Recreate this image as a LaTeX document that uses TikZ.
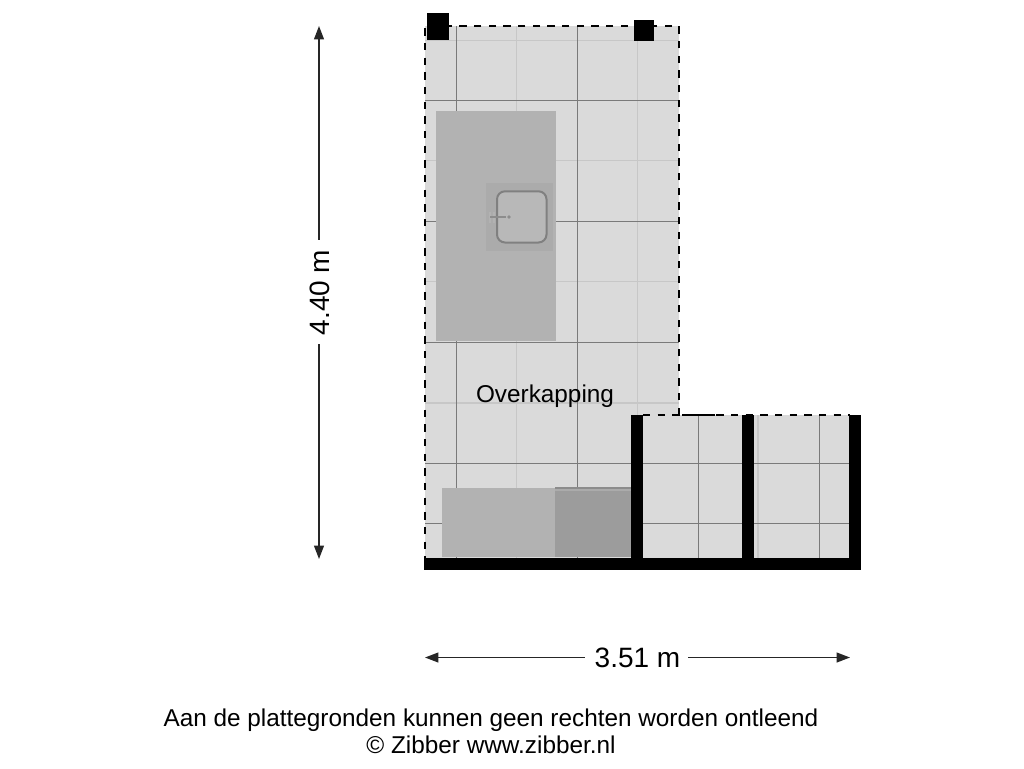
\documentclass[tikz,border=0pt]{standalone}
\usepackage{fontspec}
\setmainfont{Liberation Sans}
\usetikzlibrary{arrows.meta}
\definecolor{floorc}{gray}{0.855}
\definecolor{topc}{gray}{0.70}
\definecolor{panelc}{gray}{0.67}
\definecolor{basinc}{gray}{0.72}
\definecolor{darkblock}{gray}{0.61}
\tikzset{
  x=0.75pt,y=-0.75pt,
  floorfill/.style={fill=floorc,draw=none},
  darkgrid/.style={draw=black!52,line width=0.8pt},
  lightgrid/.style={draw=black!22,line width=0.8pt},
  wall/.style={fill=black,draw=none},
  dashline/.style={draw=black,line width=2.1pt,dash pattern=on 5.6pt off 5.4pt},
  dimline/.style={draw=black!85,line width=1pt},
  dimstart/.style={{Triangle[length=10pt,width=7.4pt]}-},
  dimend/.style={-{Triangle[length=10pt,width=7.4pt]}},
  dimtext/.style={font=\fontsize{21}{25}\selectfont,inner sep=0pt,text=black},
  label/.style={font=\fontsize{18.25}{21}\selectfont,inner sep=0pt,text=black},
}
\begin{document}
\begin{tikzpicture}
\useasboundingbox (0,0) rectangle (1024,768);
% floors
\fill[floorfill] (425,26) rectangle (679,415);
\fill[floorfill] (425,415) rectangle (632,560);
\fill[floorfill] (643,415) rectangle (850,560);
% tile grid, covered area
\foreach \yy in {40.5,160.7,281.7,403}{\draw[lightgrid] (425,\yy) -- (679,\yy);}
\foreach \xx in {516.7,637.3}{\draw[lightgrid] (\xx,26) -- (\xx,415);}
\draw[lightgrid] (516.7,415) -- (516.7,558);
\foreach \yy in {100.7,221.7,342.7}{\draw[darkgrid] (425,\yy) -- (679,\yy);}
\draw[darkgrid] (425,463.3) -- (632,463.3);
\draw[darkgrid] (425,523.7) -- (632,523.7);
\draw[darkgrid] (456.3,26) -- (456.3,558);
\draw[darkgrid] (577.3,26) -- (577.3,558);
% tile grid, side bays
\foreach \xx in {698.3,819.3}{\draw[darkgrid] (\xx,415) -- (\xx,558);}
\draw[lightgrid] (758,415) -- (758,558);
\foreach \yy in {463.3,523.7}{\draw[darkgrid] (643,\yy) -- (850,\yy);}
% kitchen island
\fill[topc] (436,111) rectangle (556,341);
\fill[panelc] (485.7,183.3) rectangle (552.7,250.7);
\draw[fill=basinc,draw=black!50,line width=1.5pt,rounded corners=6pt] (497,191.3) rectangle (546.5,242.5);
% tap
\draw[black!30,line width=2pt] (490,212) -- (490,222.5);
\draw[black!30,line width=1.6pt] (494,212) -- (494,222.5);
\draw[black!45,line width=1.1pt] (490,217) -- (506,217);
\fill[black!45] (509,217) circle (1.8);
% low units
\fill[topc] (441.7,488.3) rectangle (555,557);
\fill[darkblock] (555,487) rectangle (631.5,557);
\fill[black!45] (555,487) rectangle (631.5,488.5);
\fill[black!33] (555,488.5) rectangle (631.5,491);
% dashed outline
\draw[dashline] (679,415) -- (679,26) -- (425,26) -- (425,560);
\draw[dashline] (643,415) -- (850,415);
\draw[draw=black,line width=2.1pt] (679,408) -- (679,415);
\draw[draw=black,line width=2.1pt] (682,415) -- (715,415);
% walls and posts
\fill[wall] (424,558.3) rectangle (860.7,570);
\fill[wall] (631.3,415.3) rectangle (643,560);
\fill[wall] (742,415.3) rectangle (753.7,560);
\fill[wall] (849.3,415) rectangle (860.7,560);
\fill[wall] (426.5,13.3) rectangle (449.3,40);
\fill[wall] (633.7,20.3) rectangle (653.7,41);
% dimensions
\node[dimtext,rotate=90] (dimv) at (320,292.5) {4.40 m};
\node[dimtext] (dimh) at (637.5,657.5) {3.51 m};
\coordinate (vtop) at (319,26);
\coordinate (vgapa) at (319,240);
\coordinate (vgapb) at (319,344);
\coordinate (vbot) at (319,559);
\coordinate (hleft) at (425,657.5);
\coordinate (hgapa) at (585,657.5);
\coordinate (hgapb) at (688.3,657.5);
\coordinate (hright) at (850,657.5);
\draw[dimline,dimstart] (vtop) -- (vgapa);
\draw[dimline,dimend] (vgapb) -- (vbot);
\draw[dimline,dimstart] (hleft) -- (hgapa);
\draw[dimline,dimend] (hgapb) -- (hright);
% labels
\node[label] (room) at (545,396.5) {Overkapping};
\node[label] (foot1) at (491,720.5) {Aan de plattegronden kunnen geen rechten worden ontleend};
\node[label] (foot2) at (491,745) {© Zibber www.zibber.nl};
\end{tikzpicture}
\end{document}
